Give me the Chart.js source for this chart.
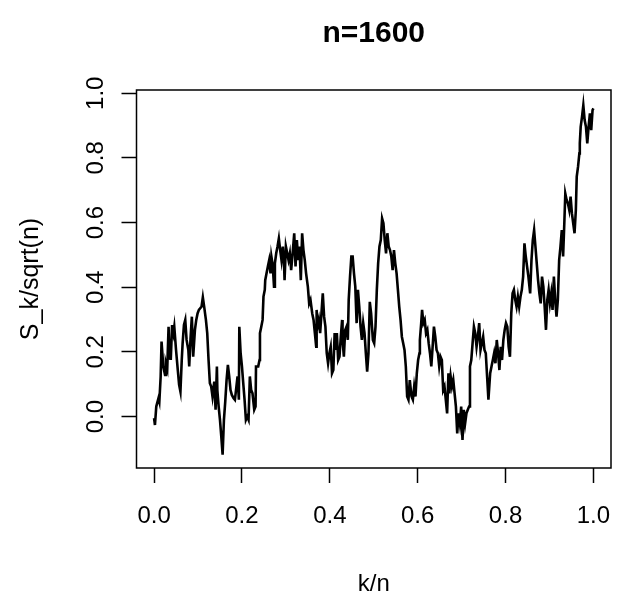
<!DOCTYPE html>
<html>
<head>
<meta charset="utf-8">
<script src="https://cdn.jsdelivr.net/npm/chart.js@4"></script>
<style>
html, body { margin: 0; padding: 0; background: #fff; }
#wrap { width: 617px; height: 596px; }
</style>
</head>
<body>
<div id="wrap"><canvas id="walk" width="617" height="596"></canvas></div>
<script>
// k/n positions
const kn = [
  0.000, 0.002, 0.005, 0.010, 0.012, 0.015, 0.017, 0.021, 0.025, 0.027, 0.030, 0.033, 0.035, 0.036, 0.038,
  0.041, 0.044, 0.046, 0.050, 0.054, 0.057, 0.060, 0.063, 0.065, 0.068, 0.071, 0.074, 0.078, 0.080, 0.083,
  0.086, 0.089, 0.093, 0.096, 0.099, 0.102, 0.105, 0.108, 0.111, 0.114, 0.118, 0.121, 0.124, 0.127, 0.130,
  0.133, 0.137, 0.140, 0.143, 0.144, 0.147, 0.150, 0.153, 0.156, 0.159, 0.162, 0.165, 0.168, 0.171, 0.174,
  0.177, 0.181, 0.184, 0.187, 0.190, 0.193, 0.194, 0.197, 0.200, 0.203, 0.206, 0.209, 0.212, 0.215, 0.218,
  0.221, 0.224, 0.228, 0.231, 0.232, 0.237, 0.240, 0.241, 0.244, 0.247, 0.249, 0.252, 0.253, 0.256, 0.259,
  0.262, 0.265, 0.267, 0.270, 0.273, 0.275, 0.278, 0.281, 0.284, 0.287, 0.290, 0.293, 0.296, 0.297, 0.300,
  0.303, 0.306, 0.309, 0.312, 0.316, 0.319, 0.322, 0.325, 0.328, 0.331, 0.334, 0.337, 0.340, 0.343, 0.346,
  0.350, 0.353, 0.356, 0.360, 0.363, 0.366, 0.369, 0.370, 0.372, 0.375, 0.378, 0.381, 0.384, 0.387, 0.390,
  0.393, 0.396, 0.399, 0.402, 0.405, 0.408, 0.411, 0.414, 0.416, 0.419, 0.422, 0.425, 0.428, 0.429, 0.432,
  0.435, 0.438, 0.441, 0.443, 0.446, 0.449, 0.452, 0.455, 0.458, 0.461, 0.464, 0.467, 0.470, 0.473, 0.476,
  0.479, 0.482, 0.485, 0.488, 0.491, 0.494, 0.498, 0.501, 0.504, 0.507, 0.510, 0.513, 0.516, 0.519, 0.522,
  0.525, 0.528, 0.531, 0.534, 0.537, 0.540, 0.543, 0.546, 0.549, 0.552, 0.555, 0.558, 0.561, 0.564, 0.567,
  0.570, 0.573, 0.576, 0.579, 0.582, 0.586, 0.589, 0.592, 0.595, 0.598, 0.601, 0.604, 0.605, 0.608, 0.610,
  0.613, 0.616, 0.619, 0.622, 0.625, 0.628, 0.631, 0.634, 0.637, 0.640, 0.643, 0.646, 0.649, 0.652, 0.655,
  0.658, 0.661, 0.664, 0.667, 0.670, 0.672, 0.675, 0.678, 0.681, 0.684, 0.687, 0.690, 0.693, 0.696, 0.699,
  0.702, 0.705, 0.708, 0.711, 0.714, 0.717, 0.719, 0.722, 0.725, 0.728, 0.731, 0.734, 0.737, 0.740, 0.743,
  0.746, 0.749, 0.752, 0.755, 0.758, 0.761, 0.765, 0.768, 0.771, 0.774, 0.777, 0.780, 0.783, 0.786, 0.789,
  0.792, 0.795, 0.798, 0.801, 0.804, 0.807, 0.810, 0.813, 0.816, 0.819, 0.822, 0.825, 0.828, 0.831, 0.834,
  0.837, 0.840, 0.843, 0.846, 0.849, 0.852, 0.856, 0.859, 0.862, 0.865, 0.868, 0.871, 0.874, 0.877, 0.880,
  0.883, 0.886, 0.889, 0.892, 0.895, 0.898, 0.901, 0.904, 0.907, 0.910, 0.913, 0.916, 0.919, 0.922, 0.925,
  0.928, 0.931, 0.934, 0.936, 0.939, 0.942, 0.945, 0.948, 0.951, 0.954, 0.957, 0.960, 0.962, 0.965, 0.968,
  0.969, 0.971, 0.974, 0.977, 0.980, 0.983, 0.986, 0.989, 0.992, 0.995, 0.998, 1.000
];
// S_k/sqrt(n) at those positions
const sk = [
  -0.005, -0.026, 0.031, 0.057, 0.046, 0.124, 0.232, 0.155, 0.129, 0.165, 0.149, 0.278, 0.180, 0.206, 0.175,
  0.283, 0.258, 0.278, 0.206, 0.144, 0.098, 0.077, 0.175, 0.227, 0.283, 0.299, 0.237, 0.206, 0.155, 0.242,
  0.309, 0.185, 0.268, 0.299, 0.319, 0.330, 0.335, 0.340, 0.369, 0.340, 0.299, 0.258, 0.175, 0.103, 0.093,
  0.062, 0.108, 0.021, 0.155, 0.082, 0.031, -0.010, -0.062, -0.118, -0.010, 0.046, 0.113, 0.160, 0.124, 0.082,
  0.067, 0.057, 0.052, 0.088, 0.124, 0.052, 0.278, 0.196, 0.155, 0.103, 0.052, -0.010, 0.000, -0.010, 0.124,
  0.082, 0.072, 0.021, 0.031, 0.155, 0.155, 0.175, 0.258, 0.278, 0.299, 0.371, 0.392, 0.422, 0.443, 0.464,
  0.484, 0.443, 0.495, 0.469, 0.402, 0.474, 0.505, 0.526, 0.551, 0.515, 0.484, 0.526, 0.464, 0.422, 0.526,
  0.505, 0.484, 0.505, 0.453, 0.515, 0.567, 0.464, 0.546, 0.484, 0.526, 0.422, 0.567, 0.515, 0.484, 0.443,
  0.402, 0.350, 0.361, 0.319, 0.299, 0.258, 0.216, 0.330, 0.278, 0.299, 0.258, 0.319, 0.381, 0.309, 0.278,
  0.196, 0.165, 0.196, 0.216, 0.134, 0.144, 0.258, 0.206, 0.258, 0.175, 0.185, 0.247, 0.299, 0.237, 0.185,
  0.268, 0.278, 0.237, 0.361, 0.433, 0.495, 0.495, 0.443, 0.402, 0.289, 0.392, 0.340, 0.278, 0.237, 0.289,
  0.258, 0.196, 0.139, 0.196, 0.355, 0.319, 0.237, 0.227, 0.278, 0.392, 0.474, 0.526, 0.546, 0.613, 0.598,
  0.546, 0.505, 0.567, 0.526, 0.515, 0.495, 0.453, 0.515, 0.474, 0.443, 0.392, 0.340, 0.299, 0.247, 0.227,
  0.206, 0.155, 0.062, 0.052, 0.113, 0.062, 0.052, 0.093, 0.062, 0.134, 0.175, 0.196, 0.237, 0.289, 0.330,
  0.289, 0.299, 0.258, 0.268, 0.227, 0.196, 0.155, 0.216, 0.278, 0.247, 0.206, 0.196, 0.155, 0.185, 0.175,
  0.082, 0.093, 0.052, 0.010, 0.134, 0.072, 0.124, 0.093, 0.113, 0.072, 0.031, -0.052, 0.010, -0.021, 0.031,
  -0.072, 0.021, -0.021, 0.010, 0.021, 0.031, 0.155, 0.175, 0.227, 0.278, 0.258, 0.216, 0.247, 0.289, 0.206,
  0.227, 0.247, 0.206, 0.196, 0.124, 0.052, 0.134, 0.155, 0.175, 0.196, 0.165, 0.237, 0.196, 0.144, 0.216,
  0.175, 0.237, 0.268, 0.289, 0.278, 0.216, 0.185, 0.319, 0.381, 0.392, 0.361, 0.340, 0.371, 0.340, 0.371,
  0.392, 0.433, 0.536, 0.495, 0.464, 0.433, 0.381, 0.484, 0.546, 0.577, 0.526, 0.474, 0.422, 0.381, 0.350,
  0.433, 0.402, 0.340, 0.268, 0.361, 0.392, 0.350, 0.381, 0.330, 0.433, 0.361, 0.309, 0.361, 0.484, 0.526,
  0.577, 0.495, 0.608, 0.690, 0.670, 0.659, 0.639, 0.680, 0.629, 0.598, 0.567, 0.639, 0.742, 0.773, 0.814,
  0.845, 0.896, 0.927, 0.963, 0.917, 0.896, 0.845, 0.896, 0.938, 0.886, 0.948, 0.953
];
const xTicks = [0, 0.2, 0.4, 0.6, 0.8, 1.0];
const yTicks = [0, 0.2, 0.4, 0.6, 0.8, 1.0];
const xRange = [-0.04, 1.04];
const yRange = [-0.159, 1.010];
const titleText = 'n=1600';
const xTitle = 'k/n';
const yTitle = 'S_k/sqrt(n)';

const fontFam = '"Liberation Sans", Arial, Helvetica, sans-serif';

// box, title, axis titles and the rotated y labels, R style
const rFrame = {
    id: 'rFrame',
    afterDraw(chart) {
        const { ctx, chartArea: a, scales } = chart;
        const cx = (a.left + a.right) / 2;
        ctx.save();
        ctx.strokeStyle = '#000';
        ctx.lineWidth = 1.5;
        ctx.strokeRect(a.left, a.top, a.right - a.left, a.bottom - a.top);
        ctx.fillStyle = '#000';
        ctx.textAlign = 'center';
        ctx.textBaseline = 'middle';
        ctx.font = 'bold 30px ' + fontFam;
        ctx.fillText(titleText, cx, 34);
        ctx.font = '24px ' + fontFam;
        ctx.fillText(xTitle, cx, 584);
        scales.y.ticks.forEach(t => {
            const py = scales.y.getPixelForValue(t.value);
            ctx.save();
            ctx.translate(96, py);
            ctx.rotate(-Math.PI / 2);
            ctx.fillText(t.value.toFixed(1), 0, 0);
            ctx.restore();
        });
        ctx.font = '25px ' + fontFam;
        ctx.translate(31, (a.top + a.bottom) / 2);
        ctx.rotate(-Math.PI / 2);
        ctx.fillText(yTitle, 0, 0);
        ctx.restore();
    }
};

new Chart(document.getElementById('walk'), {
    type: 'line',
    data: {
        datasets: [{
            data: kn.map((x, i) => ({ x: x, y: sk[i] })),
            borderColor: '#000',
            borderWidth: 2.6,
            pointRadius: 0,
            tension: 0,
            fill: false
        }]
    },
    options: {
        responsive: false,
        animation: false,
        devicePixelRatio: 1,
        layout: { padding: { top: 90, right: 6, bottom: 0, left: 0 } },
        plugins: { legend: { display: false }, tooltip: { enabled: false }, title: { display: false } },
        scales: {
            x: {
                type: 'linear',
                min: xRange[0],
                max: xRange[1],
                afterBuildTicks: s => { s.ticks = xTicks.map(v => ({ value: v })); },
                afterFit: s => { s.height = 128; s.paddingLeft = 0; s.paddingRight = 0; },
                grid: { drawOnChartArea: false, drawTicks: true, tickLength: 15, tickWidth: 1.5, tickColor: '#000' },
                border: { display: false },
                ticks: {
                    color: '#000',
                    font: { size: 24, family: fontFam },
                    padding: 19,
                    maxRotation: 0,
                    autoSkip: false,
                    callback: v => v.toFixed(1)
                }
            },
            y: {
                type: 'linear',
                min: yRange[0],
                max: yRange[1],
                afterBuildTicks: s => { s.ticks = yTicks.map(v => ({ value: v })); },
                afterFit: s => { s.width = 136.5; s.paddingTop = 0; s.paddingBottom = 0; },
                grid: { drawOnChartArea: false, drawTicks: true, tickLength: 15, tickWidth: 1.5, tickColor: '#000' },
                border: { display: false },
                ticks: { display: false }
            }
        }
    },
    plugins: [rFrame]
});
</script>
</body>
</html>
